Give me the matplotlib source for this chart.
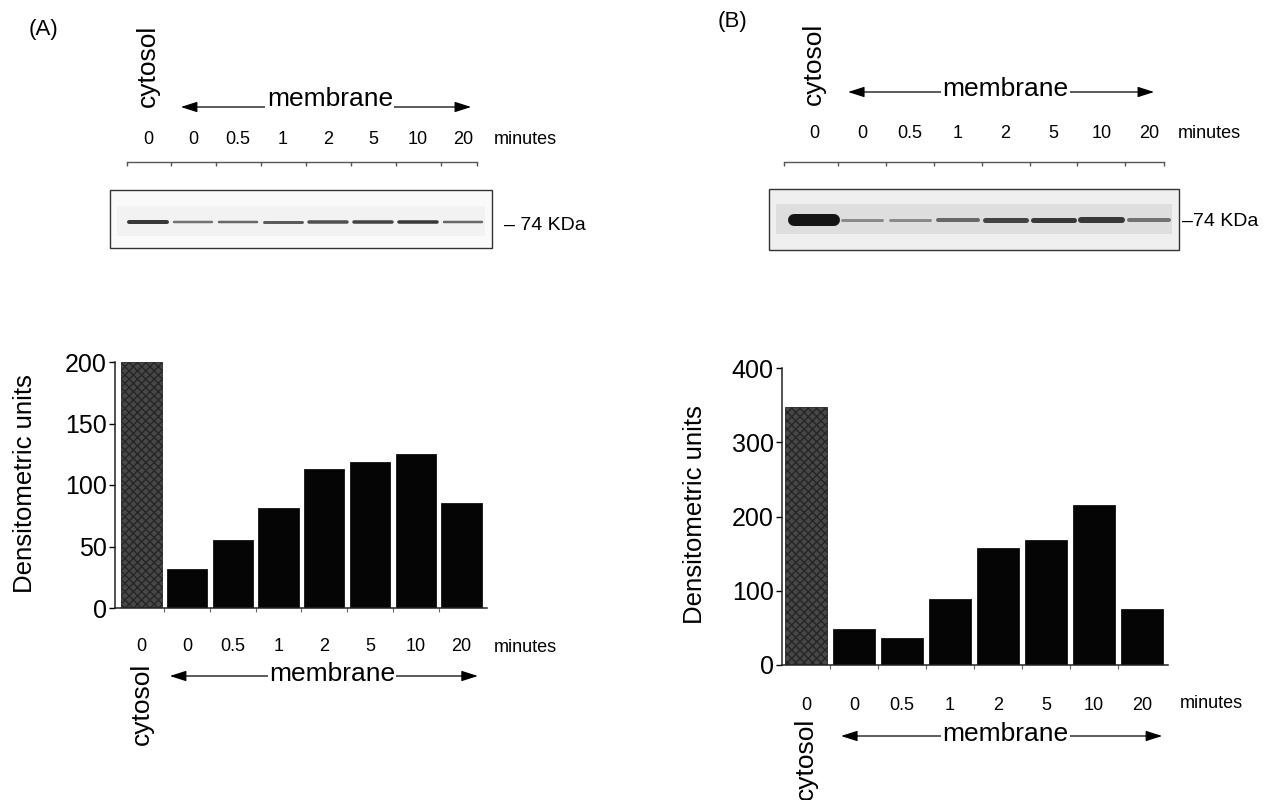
import numpy as np
import matplotlib
matplotlib.use("Agg")
import matplotlib.pyplot as plt
import matplotlib.transforms as mtransforms
from matplotlib.patches import Rectangle

plt.rcParams['font.family'] = ['Liberation Sans', 'DejaVu Sans']

lanes = ['0', '0', '0.5', '1', '2', '5', '10', '20']
dens_A = [200, 32, 55, 81, 113, 119, 125, 85]
dens_B = [347, 49, 37, 89, 158, 169, 215, 76]
yticks_A = [0, 50, 100, 150, 200]
yticks_B = [0, 100, 200, 300, 400]
# band darkness (0-1) and thickness (px) on the two films
band_A = [0.85, 0.6, 0.65, 0.7, 0.75, 0.8, 0.85, 0.65]
band_B = [1.0, 0.5, 0.5, 0.65, 0.8, 0.85, 0.85, 0.6]
thick_A = [4, 2.5, 2.5, 3, 3.5, 3.5, 3.5, 2.5]
thick_B = [12, 3, 3, 4, 5, 5, 6, 4]

W, H = 1275, 800
fig = plt.figure(figsize=(12.75, 8), dpi=100)


def px_axes(x0, x1, y0, y1):
    # box in pixels (y measured from top) -> axes
    return fig.add_axes([x0 / W, 1 - y1 / H, (x1 - x0) / W, (y1 - y0) / H])


def header(x0, x1, lane0, step, cyt_y, mem_x, mem_y, arr, lab_y, min_x,
           line_x, line_y, box, band_y, band, thick, bg, kda, kda_x, kda_y):
    ax = px_axes(x0, x1, 0, 265)
    ax.set_xlim((x0 - lane0) / step, (x1 - lane0) / step)
    ax.set_ylim(265, 0)
    ax.axis('off')
    n = len(lanes)
    ax.text(0, cyt_y, 'cytosol', rotation=90, ha='center', va='bottom', fontsize=19)
    ax.annotate('', xy=(arr[1], arr[2]), xytext=(arr[0], arr[2]),
                arrowprops=dict(arrowstyle='<|-|>,head_length=0.5,head_width=0.16',
                                color='black', lw=0.9, mutation_scale=20,
                                shrinkA=0, shrinkB=0))
    ax.text(mem_x, mem_y, 'membrane', ha='center', va='center', fontsize=19,
            bbox=dict(facecolor='white', edgecolor='none', pad=1))
    for i in range(n):
        ax.text(i, lab_y, lanes[i], ha='center', va='center', fontsize=13)
    ax.text(min_x, lab_y, 'minutes', ha='left', va='center', fontsize=13)
    # scale line above the film
    ax.plot(line_x, [line_y, line_y], color='#555555', lw=1)
    tx = [line_x[0]] + [i + 0.5 for i in range(n - 1)] + [line_x[1]]
    ax.vlines(tx, line_y, line_y + 4, color='#555555', lw=1)
    # film
    ax.add_patch(Rectangle((box[0], box[2]), box[1] - box[0], box[3] - box[2],
                           facecolor=bg[0], edgecolor='#333333', lw=1))
    ax.add_patch(Rectangle((box[0] + 0.15, band_y - 16), box[1] - box[0] - 0.3, 30,
                           facecolor=bg[1], edgecolor='none'))
    for i in range(n):
        g = 1 - 0.92 * band[i]
        ax.plot([i - 0.42, i + 0.42], [band_y, band_y], color=str(g),
                lw=thick[i] * 0.72, solid_capstyle='round')
    ax.text(kda_x, kda_y, kda, ha='left', va='center', fontsize=14)
    return ax


def bars(x0, x1, y0, y1, lane0, step, dens, yticks, ylab_x, tick_off, min_off,
         min_x, cyt_off, arr, mem_x, width):
    ax = px_axes(x0, x1, y0, y1)
    n = len(lanes)
    colors = ['#474747'] + ['#050505'] * (n - 1)
    b = ax.bar(range(n), dens, width=width, color=colors, edgecolor='#111111', lw=0.6)
    b[0].set_hatch('xxxx')
    b[0].set_edgecolor('#262626')
    ax.set_xlim((x0 - lane0) / step, (x1 - lane0) / step)
    ax.set_ylim(yticks[0], yticks[-1])
    ax.set_yticks(yticks)
    ax.set_xticks(range(n), lanes)
    ax.set_xticks([i + 0.5 for i in range(n - 1)], minor=True)
    ax.tick_params(axis='y', labelsize=18, length=4, width=1, pad=2)
    ax.tick_params(axis='x', which='major', labelsize=13, length=0, pad=tick_off)
    ax.tick_params(axis='x', which='minor', length=3, width=0.8, color='#666666')
    for s in ['top', 'right']:
        ax.spines[s].set_visible(False)
    for s in ['left', 'bottom']:
        ax.spines[s].set_linewidth(1.1)
        ax.spines[s].set_color('#222222')
    ax.set_ylabel('Densitometric units', fontsize=18.5)
    ax.yaxis.set_label_coords(ylab_x, 0.505)
    base = mtransforms.blended_transform_factory(ax.transData, ax.transAxes)
    t_lab = mtransforms.offset_copy(base, fig, y=-min_off, units='dots')
    ax.text(min_x, 0, 'minutes', transform=t_lab, ha='left', va='center', fontsize=13)
    t_cyt = mtransforms.offset_copy(base, fig, y=-cyt_off, units='dots')
    ax.text(0, 0, 'cytosol', transform=t_cyt, rotation=90, ha='center', va='top',
            fontsize=19)
    t_arr = mtransforms.offset_copy(base, fig, y=-arr[2], units='dots')
    ax.annotate('', xy=(arr[1], 0), xytext=(arr[0], 0), xycoords=t_arr,
                textcoords=t_arr,
                arrowprops=dict(arrowstyle='<|-|>,head_length=0.5,head_width=0.16',
                                color='black', lw=0.9, mutation_scale=20,
                                shrinkA=0, shrinkB=0))
    t_mem = mtransforms.offset_copy(base, fig, y=-arr[2] + 2, units='dots')
    ax.text(mem_x, 0, 'membrane', transform=t_mem, ha='center', va='center',
            fontsize=19, bbox=dict(facecolor='white', edgecolor='none', pad=1))
    return ax


# panel A
fig.text(29 / W, 1 - 30 / H, '(A)', fontsize=16, va='center', ha='left')
header(0, 637, 148, 45.0, 107, 4.04, 99, (0.73, 7.18, 107), 140, 7.69,
       (-0.47, 7.31), 162, (-0.84, 7.64, 190, 248), 222, band_A, thick_A,
       ('#fafafa', '#f2f2f2'), '\u2013 74 KDa', 7.9, 225)
bars(115, 487, 362, 608, 141.5, 45.7, dens_A, yticks_A, -0.21, 21.5, 39,
     7.71, 55, (0.62, 7.36, 68), 4.17, 0.88)

# panel B
fig.text(718 / W, 1 - 22 / H, '(B)', fontsize=16, va='center', ha='left')
header(640, 1275, 814, 47.9, 105, 4.0, 89, (0.71, 7.1, 92), 133, 7.6,
       (-0.63, 7.3), 162, (-0.94, 7.62, 189, 250), 220, band_B, thick_B,
       ('#efefef', '#dedede'), '\u201374 KDa', 7.68, 222)
bars(782, 1168, 368, 665, 806, 48.0, dens_B, yticks_B, -0.194, 23, 38,
     7.79, 53, (0.73, 7.42, 71), 4.15, 0.87)

fig.savefig('out.png', dpi=100)
